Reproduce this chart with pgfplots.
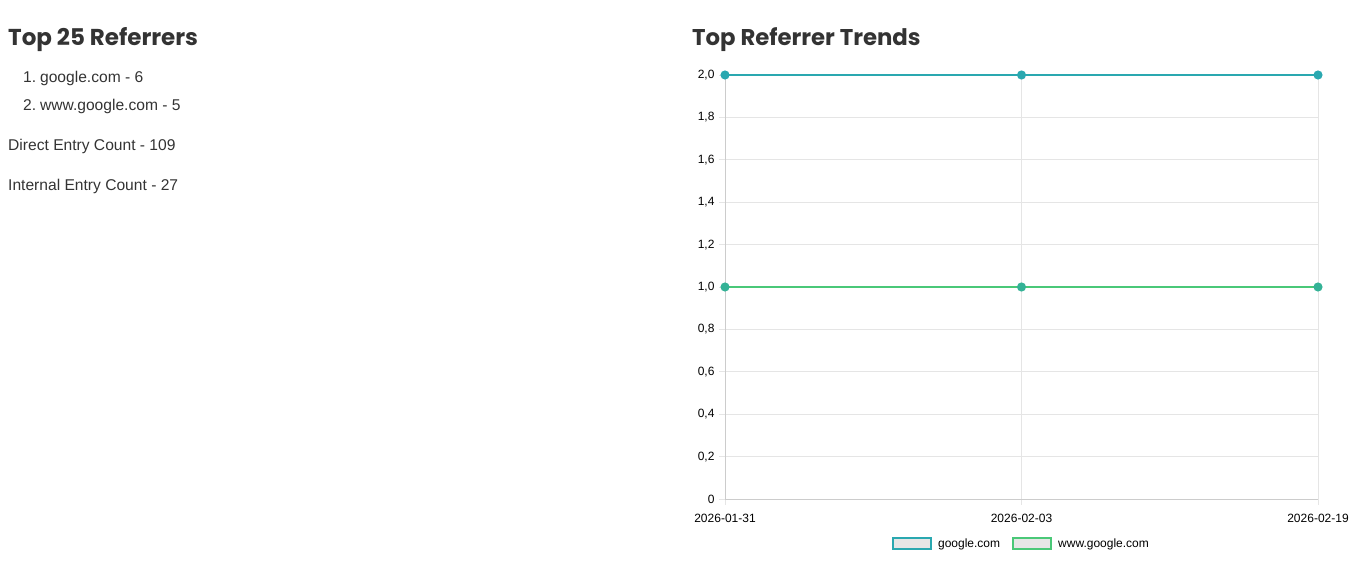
\documentclass[border=0pt]{standalone}
\usepackage{fontspec}
\setmainfont{Liberation Sans}
\newfontfamily\titlefont{Poppins}
\usepackage{pgfplots}
\pgfplotsset{compat=1.18}
\definecolor{tealc}{RGB}{42,168,176}
\definecolor{greenc}{RGB}{74,200,120}
\definecolor{greenm}{RGB}{52,178,150}
\definecolor{gridc}{RGB}{229,229,229}
\definecolor{axc}{RGB}{204,204,204}
\definecolor{txt}{RGB}{51,51,51}
\definecolor{legf}{RGB}{230,230,230}
\begin{document}
\begin{tikzpicture}
\path[use as bounding box] (0pt,0pt) rectangle (1362pt,588pt);
% left panel text
\node[anchor=base west,inner sep=0,text=txt,font=\titlefont\fontsize{23}{27}\selectfont\bfseries] at (8pt,542pt) {Top 25 Referrers};
\node[anchor=base west,inner sep=0,text=txt,font=\titlefont\fontsize{22.8}{27}\selectfont\bfseries] at (692pt,542pt) {Top Referrer Trends};
\node[anchor=base west,inner sep=0,text=txt,font=\fontsize{15.6}{19}\selectfont] at (23pt,505pt) {1.\hspace{0.25em}google.com - 6};
\node[anchor=base west,inner sep=0,text=txt,font=\fontsize{15.6}{19}\selectfont] at (23pt,477pt) {2.\hspace{0.25em}www.google.com - 5};
\node[anchor=base west,inner sep=0,text=txt,font=\fontsize{15.6}{19}\selectfont] at (8pt,437pt) {Direct Entry Count - 109};
\node[anchor=base west,inner sep=0,text=txt,font=\fontsize{15.6}{19}\selectfont] at (8pt,397pt) {Internal Entry Count - 27};
\begin{axis}[
  at={(725pt,89pt)}, anchor=south west,
  scale only axis, width=593pt, height=424pt,
  xmin=0, xmax=2, ymin=0, ymax=2,
  xtick={0,1,2}, xticklabels={2026-01-31,2026-02-03,2026-02-19},
  ytick={0,0.2,0.4,0.6,0.8,1,1.2,1.4,1.6,1.8,2},
  yticklabels={0,{0,2},{0,4},{0,6},{0,8},{1,0},{1,2},{1,4},{1,6},{1,8},{2,0}},
  grid=major, grid style={gridc,line width=0.8pt},
  axis x line*=bottom, axis y line*=left,
  axis line style={axc,line width=0.8pt},
  tick align=outside, major tick length=6pt,
  tick style={gridc,line width=0.8pt},
  ticklabel style={font=\fontsize{12}{14}\selectfont,text=black},
  yticklabel style={xshift=-1pt},
  xticklabel style={yshift=-6pt},
  clip=false,
  legend style={at={(axis description cs:0.5,0)}, anchor=center, yshift=-45pt,
     draw=none, fill=none, legend columns=2, font=\fontsize{12}{14}\selectfont,
     /tikz/every odd column/.append style={column sep=4pt},
     /tikz/every even column/.append style={column sep=10pt}},
  legend cell align=left,
]
\addplot[draw=tealc, line width=2pt, mark=*, mark size=3.5pt, mark options={fill=tealc,draw=tealc},
  legend image code/.code={\path[draw=tealc,line width=2pt,fill=legf] (0pt,-5.5pt) rectangle (38pt,5.5pt);}]
  coordinates {(0,2) (1,2) (2,2)};
\addlegendentry{google.com}
\addplot[draw=greenc, line width=2pt, mark=*, mark size=3.5pt, mark options={fill=greenm,draw=greenm},
  legend image code/.code={\path[draw=greenc,line width=2pt,fill=legf] (0pt,-5.5pt) rectangle (38pt,5.5pt);}]
  coordinates {(0,1) (1,1) (2,1)};
\addlegendentry{www.google.com}
\end{axis}
\end{tikzpicture}
\end{document}
